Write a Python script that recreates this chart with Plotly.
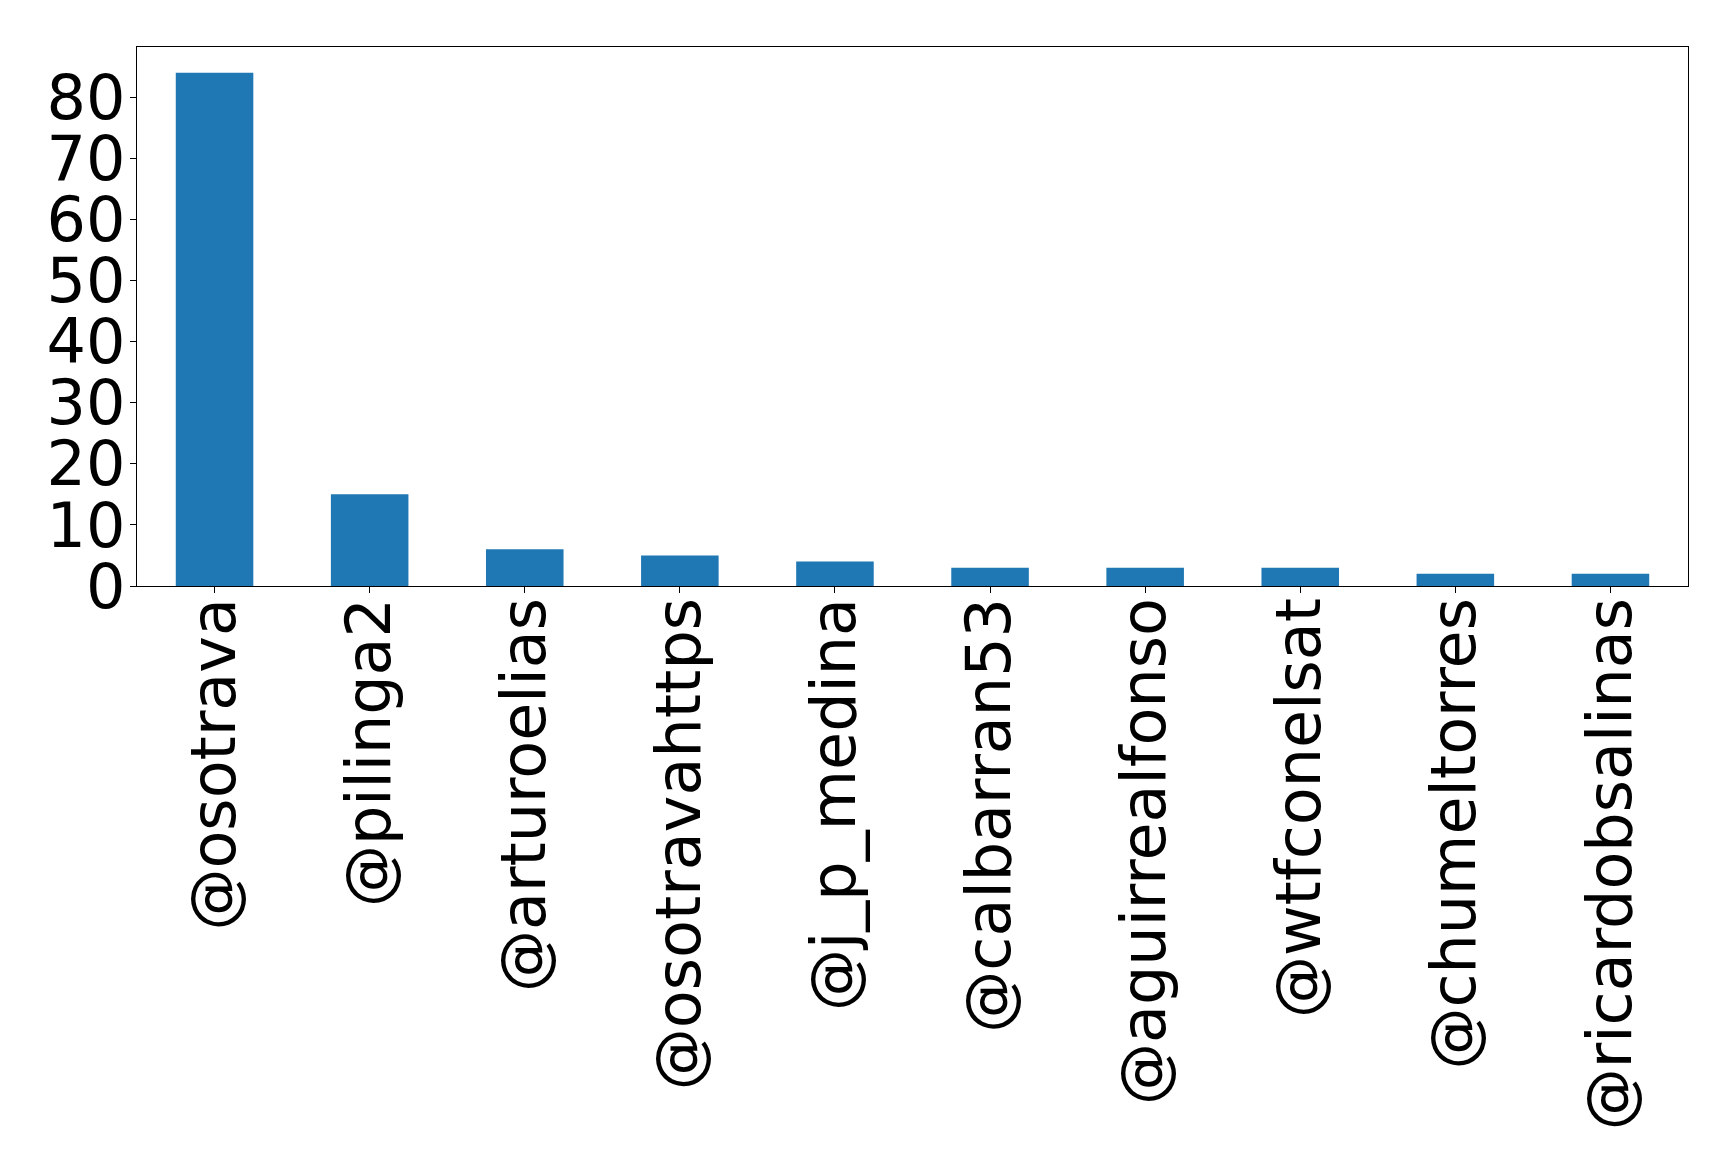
import plotly.graph_objects as go

categories = ["@osotrava", "@pilinga2", "@arturoelias", "@osotravahttps", "@j_p_medina",
              "@calbarran53", "@aguirrealfonso", "@wtfconelsat", "@chumeltorres", "@ricardobsalinas"]
counts = [84, 15, 6, 5, 4, 3, 3, 3, 2, 2]
y_ticks = [0, 10, 20, 30, 40, 50, 60, 70, 80]

fig = go.Figure()
fig.add_trace(go.Bar(x=categories, y=counts, width=0.5, marker=dict(color="#1f77b4", line=dict(width=0))))

font = dict(family="DejaVu Sans", size=62, color="black")
fig.update_layout(
    width=1719, height=1164,
    margin=dict(l=129, r=39, t=39, b=586),
    paper_bgcolor="white", plot_bgcolor="white",
    showlegend=False,
    font=font,
)
fig.update_xaxes(
    range=[-0.5, 9.5], tickangle=-90, tickfont=font,
    showline=True, linecolor="black", linewidth=1.3, mirror=True,
    ticks="outside", ticklen=6, tickwidth=1.3, tickcolor="black",
    showgrid=False, zeroline=False, ticklabelstandoff=-20,
)
fig.update_yaxes(
    range=[0, 88.2], tickvals=y_ticks, tickfont=font,
    showline=True, linecolor="black", linewidth=1.3, mirror=True,
    ticks="outside", ticklen=6, tickwidth=1.3, tickcolor="black",
    showgrid=False, zeroline=False, ticklabelstandoff=-8,
)
fig.write_html("out.html")
